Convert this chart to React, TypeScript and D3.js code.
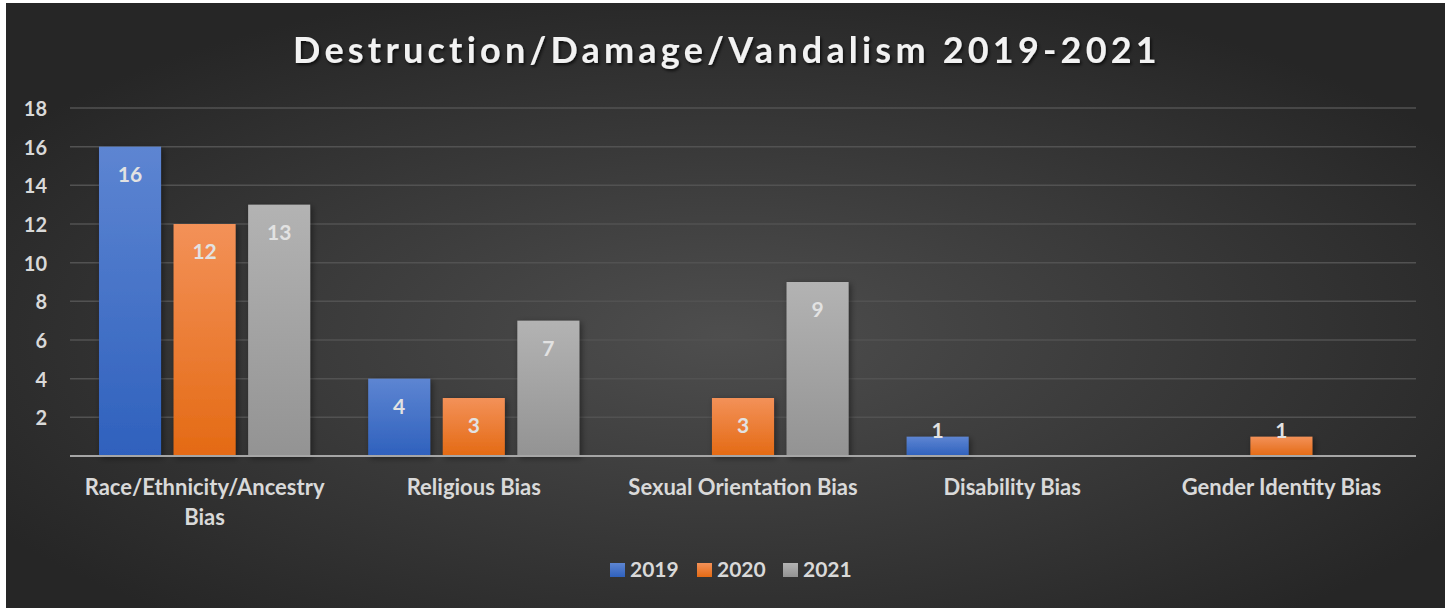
import React from "react";
import * as d3 from "d3";

const categories = [
  ["Race/Ethnicity/Ancestry", "Bias"],
  ["Religious Bias"],
  ["Sexual Orientation Bias"],
  ["Disability Bias"],
  ["Gender Identity Bias"],
];
const years = ["2019", "2020", "2021"];
const values2019 = [16, 4, 0, 1, 0];
const values2020 = [12, 3, 3, 0, 1];
const values2021 = [13, 7, 9, 0, 0];
const yTicks = [2, 4, 6, 8, 10, 12, 14, 16, 18];

const W = 1449;
const H = 608;
const FONT = "Lato, 'Open Sans', sans-serif";

export default function App() {
  const series = [values2019, values2020, values2021];
  const left = 70, right = 1416, top = 108, bottom = 456;
  const y = d3.scaleLinear().domain([0, 18]).range([bottom, top]);
  const x0 = d3
    .scaleBand<number>()
    .domain(d3.range(categories.length))
    .range([left, right])
    .paddingInner(0.2155)
    .paddingOuter(0.1077);
  const x1 = d3
    .scaleBand<number>()
    .domain(d3.range(years.length))
    .range([0, x0.bandwidth()])
    .paddingInner(0.168)
    .paddingOuter(0);
  const grads = [
    ["#5d85d2", "#2f61bd"],
    ["#f39158", "#e46a14"],
    ["#b3b3b3", "#939393"],
  ];
  const legendX = [610, 697, 783];

  return (
    <svg width={W} height={H} style={{ position: "absolute", left: 0, top: 0 }}>
      <defs>
        <radialGradient id="bg" cx="50%" cy="55%" r="60%">
          <stop offset="0%" stopColor="#4e4e4e" />
          <stop offset="100%" stopColor="#262626" />
        </radialGradient>
        {grads.map((g, i) => (
          <linearGradient key={i} id={`g${i}`} x1="0" y1="0" x2="0" y2="1">
            <stop offset="0%" stopColor={g[0]} />
            <stop offset="100%" stopColor={g[1]} />
          </linearGradient>
        ))}
        <filter id="sh" x="-20%" y="-20%" width="140%" height="140%">
          <feDropShadow dx="2" dy="2" stdDeviation="3" floodColor="#000" floodOpacity="0.45" />
        </filter>
        <filter id="tsh" x="-5%" y="-20%" width="110%" height="150%">
          <feDropShadow dx="1.5" dy="2" stdDeviation="1.5" floodColor="#000" floodOpacity="0.7" />
        </filter>
      </defs>
      <rect x={0} y={0} width={W} height={H} fill="#fff" />
      <rect x={6} y={3} width={1439} height={605} fill="url(#bg)" />
      <text
        x={727}
        y={63}
        textAnchor="middle"
        fill="#f2f2f2"
        fontFamily={FONT}
        fontWeight="bold"
        fontSize={36}
        letterSpacing={4.2}
        filter="url(#tsh)"
      >
        Destruction/Damage/Vandalism 2019-2021
      </text>
      {yTicks.map((t) => (
        <g key={t}>
          <line x1={left} x2={right} y1={y(t)} y2={y(t)} stroke="#525252" strokeWidth={1.5} />
          <text
            x={47}
            y={y(t) + 8}
            textAnchor="end"
            fill="#d9d9d9"
            fontFamily={FONT}
            fontWeight="bold"
            fontSize={20}
          >
            {t}
          </text>
        </g>
      ))}
      {categories.map((cat, ci) => (
        <g key={ci} transform={`translate(${x0(ci)},0)`}>
          {series.map((vals, si) => {
            const v = vals[ci];
            if (!v) return null;
            const bx = x1(si)!;
            const by = y(v);
            const bh = bottom - by;
            const bw = x1.bandwidth();
            const ly = bh > 30 ? by + 35 : by + 1;
            return (
              <g key={si}>
                <rect x={bx} y={by} width={bw} height={bh} fill={`url(#g${si})`} filter="url(#sh)" />
                <text
                  x={bx + bw / 2}
                  y={ly}
                  textAnchor="middle"
                  fill="#e2e2e2"
                  fontFamily={FONT}
                  fontWeight="bold"
                  fontSize={21}
                >
                  {v}
                </text>
              </g>
            );
          })}
          {cat.map((line, li) => (
            <text
              key={li}
              x={x0.bandwidth() / 2}
              y={495 + li * 29.5}
              textAnchor="middle"
              fill="#d9d9d9"
              fontFamily={FONT}
              fontWeight="bold"
              fontSize={22}
            >
              {line}
            </text>
          ))}
        </g>
      ))}
      <line x1={left} x2={right} y1={bottom} y2={bottom} stroke="#a6a6a6" strokeWidth={2} />
      {years.map((yr, i) => (
        <g key={yr}>
          <rect x={legendX[i]} y={563} width={15} height={14} fill={`url(#g${i})`} />
          <text
            x={legendX[i] + 20}
            y={577}
            fill="#d9d9d9"
            fontFamily={FONT}
            fontWeight="bold"
            fontSize={21}
          >
            {yr}
          </text>
        </g>
      ))}
    </svg>
  );
}
